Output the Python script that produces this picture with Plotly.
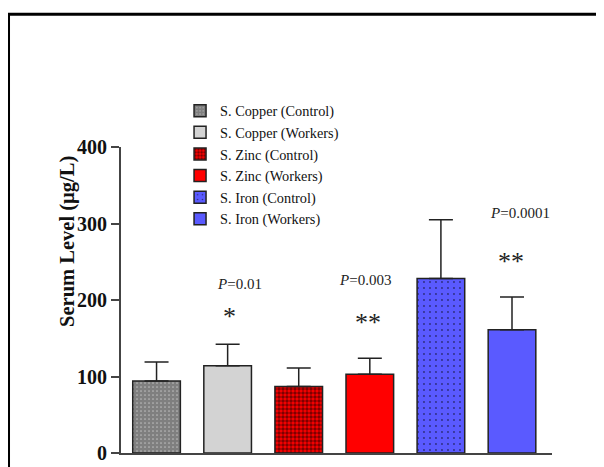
import plotly.graph_objects as go

names = ["S. Copper (Control)", "S. Copper (Workers)", "S. Zinc (Control)",
         "S. Zinc (Workers)", "S. Iron (Control)", "S. Iron (Workers)"]
means = [94, 114, 87, 103, 228, 161]
sd = [25, 28, 24, 21, 77, 43]
fills = ["#ffffff", "#d3d3d3", "#ff0000", "#ff0000", "#5a5aff", "#5a5aff"]
patterns = [
    dict(shape=".", fgcolor="#000000", bgcolor="#ffffff", size=4, solidity=0.85, fillmode="overlay"),
    None,
    dict(shape=".", fgcolor="#000000", bgcolor="#ff0000", size=4, solidity=0.6, fillmode="overlay"),
    None,
    dict(shape=".", fgcolor="#000000", bgcolor="#5a5aff", size=6, solidity=0.08, fillmode="overlay"),
    None,
]
p_labels = [None, "<i>P</i>=0.01", None, "<i>P</i>=0.003", None, "<i>P</i>=0.0001"]
p_y = [None, 221, None, 226, None, 314]
p_shift = [0, 12, 0, -5, 0, 8]
stars = [None, "*", None, "**", None, "**"]
star_y = [None, 178, None, 171, None, 250]
star_shift = [0, 2, 0, -2, 0, -1]

SERIF = "Liberation Serif"

fig = go.Figure()
for i, n in enumerate(names):
    marker = dict(color=fills[i], line=dict(color="#222222", width=1.5))
    if patterns[i] is not None:
        marker["pattern"] = patterns[i]
    fig.add_trace(go.Bar(
        x=[n], y=[means[i]], name=n, marker=marker, width=0.67,
        legendgroup=n,
        error_y=dict(type="data", array=[sd[i]], arrayminus=[0], symmetric=False,
                     color="#222222", thickness=1.5, width=12),
    ))

annotations = []
for i, n in enumerate(names):
    if p_labels[i]:
        annotations.append(dict(x=n, y=p_y[i], xref="x", yref="y", text=p_labels[i],
                                showarrow=False, xshift=p_shift[i],
                                font=dict(family=SERIF, size=15, color="#222222")))
    if stars[i]:
        annotations.append(dict(x=n, y=star_y[i], xref="x", yref="y", text=stars[i],
                                showarrow=False, xshift=star_shift[i],
                                font=dict(family=SERIF, size=26, color="#222222")))

annotations.append(dict(x=-0.123, y=0.693, xref="paper", yref="paper",
                        xanchor="center", yanchor="middle",
                        text="<b>Serum Level (µg/L)</b>", textangle=-90, showarrow=False,
                        font=dict(family=SERIF, size=20.5, color="#111111")))

fig.update_layout(
    width=596, height=459,
    margin=dict(l=113, r=52, t=139, b=14, autoexpand=False),
    paper_bgcolor="white", plot_bgcolor="white",
    barmode="overlay",
    showlegend=True,
    legend=dict(x=0.137, y=1.170, xanchor="left", yanchor="top",
                font=dict(family=SERIF, size=14.3, color="#111111"),
                bgcolor="rgba(0,0,0,0)", tracegroupgap=0, traceorder="normal"),
    annotations=annotations,
    shapes=[dict(type="path", xref="paper", yref="paper",
                 path="M -0.261,-0.1 L -0.261,1.4337 L 1.13,1.4337",
                 line=dict(color="black", width=3))],
    xaxis=dict(showticklabels=False, ticks="", showgrid=False, zeroline=False,
               showline=True, linecolor="#444444", linewidth=2,
               categoryorder="array", categoryarray=names),
    yaxis=dict(range=[0, 400], tickvals=[0, 100, 200, 300, 400], ticks="outside",
               ticklen=8, tickwidth=2, tickcolor="#444444", showgrid=False,
               zeroline=False, showline=True, linecolor="#444444", linewidth=2,
               tickfont=dict(family=SERIF, size=20, color="#111111", weight="bold")),
)

fig.write_html("out.html")
